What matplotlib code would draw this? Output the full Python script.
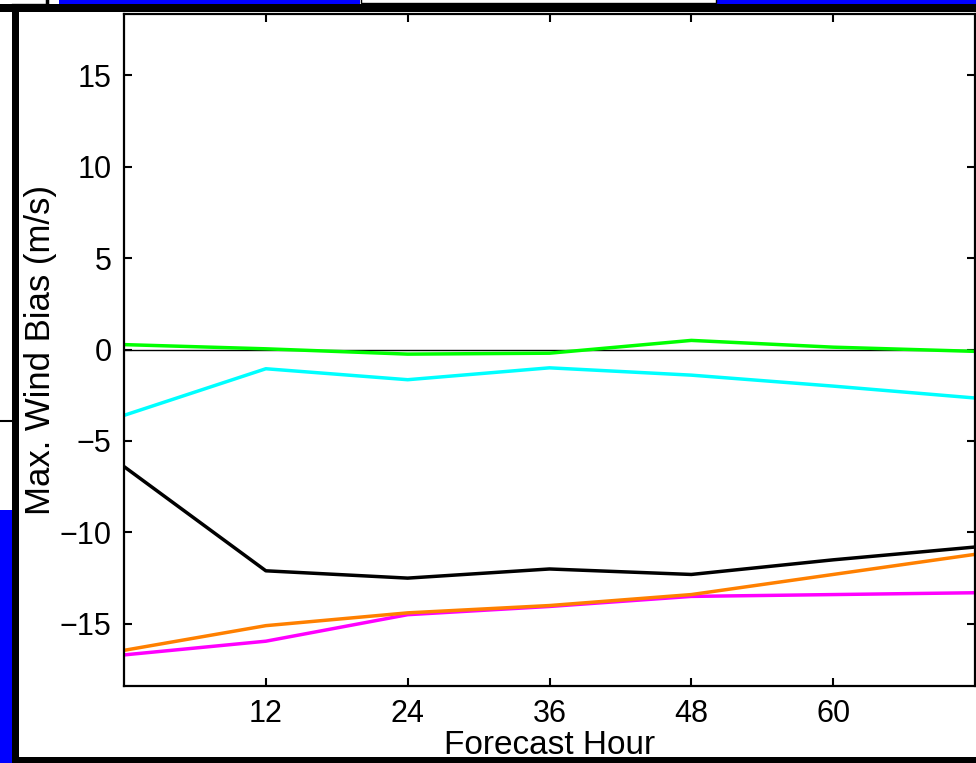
import matplotlib
matplotlib.use('Agg')
import matplotlib.pyplot as plt
from matplotlib.patches import Rectangle
from matplotlib import font_manager

# forecast hours and max wind bias (m/s) for each run
hours = [0, 12, 24, 36, 48, 60, 72]
bias_black = [-6.4, -12.1, -12.5, -12.0, -12.3, -11.5, -10.8]
bias_cyan = [-3.6, -1.05, -1.65, -1.0, -1.4, -2.0, -2.65]
bias_green = [0.27, 0.04, -0.25, -0.2, 0.5, 0.13, -0.1]
bias_magenta = [-16.7, -15.95, -14.5, -14.05, -13.5, -13.4, -13.3]
bias_orange = [-16.45, -15.1, -14.4, -14.0, -13.4, -12.3, -11.2]

xticks = [12, 24, 36, 48, 60]
yticks = [-15, -10, -5, 0, 5, 10, 15]

names = [f.name for f in font_manager.fontManager.ttflist]
fam = 'Liberation Sans Narrow' if 'Liberation Sans Narrow' in names else 'Liberation Sans'
plt.rcParams['font.family'] = [fam, 'DejaVu Sans']

W, H = 976, 763
fig = plt.figure(figsize=(W / 100, H / 100), dpi=100)
ax = fig.add_axes([124 / W, 1 - 686 / H, 851 / W, 672 / H])

ax.axhline(0, color='black', lw=1.0, zorder=1)
ax.plot(hours, bias_black, color='black', lw=2.5)
ax.plot(hours, bias_cyan, color='#00ffff', lw=2.5)
ax.plot(hours, bias_green, color='#00ff00', lw=2.5)
ax.plot(hours, bias_magenta, color='#ff00ff', lw=2.5)
ax.plot(hours, bias_orange, color='#ff8000', lw=2.5)

ax.set_xlim(0, 72)
ax.set_ylim(-18.4, 18.35)
ax.set_xticks(xticks)
ax.set_yticks(yticks)
ax.set_yticklabels(['\u2212' + str(-v) if v < 0 else str(v) for v in yticks])
ax.tick_params(direction='in', length=6, width=1.5, labelsize=22,
               top=True, right=True, pad=9)
for s in ax.spines.values():
    s.set_linewidth(1.6)
ax.set_xlabel('Forecast Hour', fontsize=24, labelpad=1)
ax.set_ylabel('Max. Wind Bias (m/s)', fontsize=25, labelpad=2)

# slide frame around the screenshot
ov = fig.add_axes([0, 0, 1, 1], zorder=5)
ov.set_xlim(0, W)
ov.set_ylim(H, 0)
ov.axis('off')
ov.patch.set_alpha(0)
blocks = [
    (59, 0, 301, 3.5, '#0000ff'),
    (717, 0, 259, 3.5, '#0000ff'),
    (0, 4, 976, 7.5, 'black'),
    (12, 4, 7, 759, 'black'),
    (0, 510, 12, 253, '#0000ff'),
    (12, 757, 964, 6, 'black'),
]
for x, y, w, h, c in blocks:
    ov.add_patch(Rectangle((x, y), w, h, color=c, lw=0))
ov.add_patch(Rectangle((361, -2), 355, 5, facecolor='white', edgecolor='black', lw=1))
ov.plot([12, 47], [3.5, 3.5], color='black', lw=1)
ov.plot([47, 47], [0, 4], color='black', lw=2.5)
ov.plot([0, 15], [421, 421], color='black', lw=1.5)

fig.savefig('out.png', dpi=100)
